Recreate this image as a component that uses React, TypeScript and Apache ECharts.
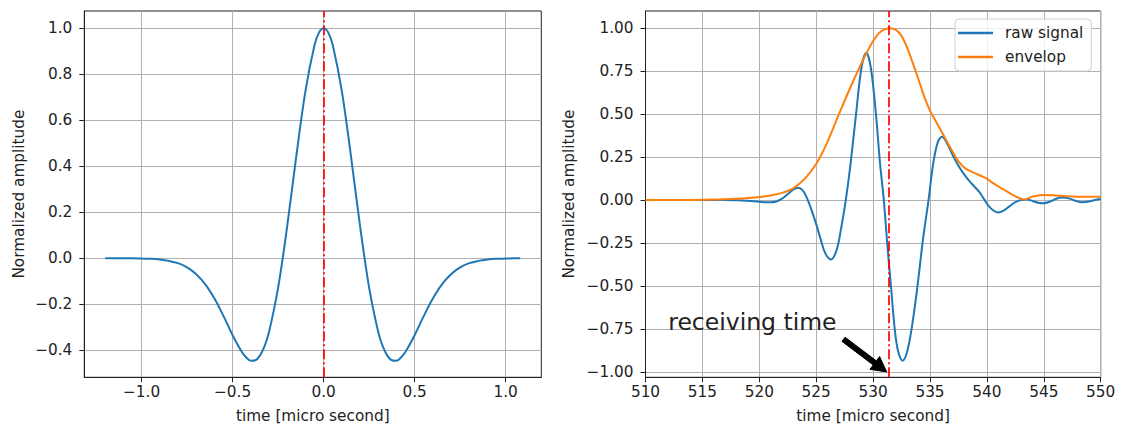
import React, { useEffect, useRef } from 'react';
import * as echarts from 'echarts';

// ---------- data ----------
const leftTime = [
  -1.2, -1.15, -1.1, -1.05, -1.0, -0.95, -0.9, -0.85, -0.8, -0.75, -0.7, -0.65, -0.6, -0.55, -0.5, -0.45,
  -0.425, -0.4, -0.375, -0.35, -0.325, -0.3, -0.25, -0.2, -0.15, -0.1, -0.05, -0.025, 0, 0.025, 0.05, 0.1, 0.15,
  0.2, 0.25, 0.3, 0.325, 0.35, 0.375, 0.4, 0.425,
  0.45, 0.5, 0.55, 0.6, 0.65, 0.7, 0.75, 0.8, 0.85, 0.9, 0.95, 1.0, 1.05, 1.08,
];
const leftAmp = [
  0, 0, 0, 0, -0.001, -0.002, -0.005, -0.011, -0.021, -0.039, -0.069, -0.113, -0.175, -0.251, -0.334, -0.406,
  -0.431, -0.445, -0.443, -0.423, -0.383, -0.32, -0.127, 0.141, 0.445, 0.727, 0.927, 0.982, 1.0, 0.982, 0.927, 0.727, 0.445,
  0.141, -0.127, -0.32, -0.383, -0.423, -0.443, -0.445, -0.431,
  -0.406, -0.334, -0.251, -0.175, -0.113, -0.069, -0.039, -0.021, -0.011, -0.005, -0.002, -0.001, 0, 0,
];

const rawTime = [
  510, 512, 514, 516, 517, 518, 518.5, 519, 519.5, 520, 520.5, 521, 521.5, 522, 522.5, 523, 523.4, 523.8,
  524.2, 524.6, 525, 525.4, 525.8, 526.3, 526.8, 527.2, 527.6, 528, 528.5, 529, 529.4, 529.8, 530.25, 530.6,
  530.94, 531.3, 531.57, 531.9, 532.2, 532.6, 533.0, 533.45, 533.9, 534.4, 534.87, 535.3, 535.7, 536.06,
  536.5, 537, 537.5, 538, 538.6, 539.3, 539.8, 540.3, 541, 541.5, 542, 542.5, 543, 543.5, 544, 544.5, 545,
  545.5, 546, 546.6, 547.2, 547.8, 548.4, 549, 549.5, 550,
];
const rawAmp = [
  0, 0, 0, 0, 0, -0.001, -0.002, -0.004, -0.007, -0.01, -0.013, -0.013, -0.008, 0.008, 0.035, 0.062, 0.072, 0.058,
  0.01, -0.06, -0.14, -0.23, -0.31, -0.345, -0.29, -0.16, 0.0, 0.2, 0.5, 0.78, 0.857, 0.77, 0.5, 0.22,
  0.0, -0.3, -0.5, -0.75, -0.88, -0.934, -0.88, -0.72, -0.5, -0.22, 0.0, 0.22, 0.34, 0.368,
  0.33, 0.26, 0.2, 0.15, 0.1, 0.05, 0.0, -0.045, -0.072, -0.06, -0.035, -0.012, 0.0, 0.003, -0.005, -0.015, -0.018,
  -0.01, 0.005, 0.015, 0.01, -0.005, -0.013, -0.008, 0.0, 0.008,
];

const envTime = [
  510, 514, 516, 518, 519, 520, 521, 522, 523, 524, 525, 526, 527, 528, 529, 529.5, 530, 530.5, 531, 531.5, 532, 532.5,
  533, 533.5, 534, 534.5, 535, 535.5, 536, 536.5, 537, 537.5, 538, 538.5, 539, 539.5, 540, 540.5, 541, 541.5,
  542, 542.5, 543, 543.3, 543.7, 544, 545, 546, 547, 548, 549, 550,
];
const envAmp = [
  0, 0.001, 0.003, 0.008, 0.012, 0.018, 0.027, 0.042, 0.07, 0.125, 0.21, 0.34, 0.5, 0.655, 0.8, 0.865, 0.925, 0.97, 0.993, 1.0, 0.99, 0.955,
  0.885, 0.795, 0.7, 0.6, 0.52, 0.46, 0.4, 0.34, 0.28, 0.225, 0.19, 0.17, 0.155, 0.14, 0.125, 0.1, 0.08, 0.06,
  0.04, 0.022, 0.008, 0.003, 0.012, 0.02, 0.03, 0.027, 0.022, 0.02, 0.02, 0.02,
];

const leftXTicks = [-1.0, -0.5, 0.0, 0.5, 1.0];
const leftYTicks = [-0.4, -0.2, 0.0, 0.2, 0.4, 0.6, 0.8, 1.0];
const rightXTicks = [510, 515, 520, 525, 530, 535, 540, 545, 550];
const rightYTicks = [-1.0, -0.75, -0.5, -0.25, 0.0, 0.25, 0.5, 0.75, 1.0];

const leftPeakTime = 0;
const receivingTime = 531.35;
const annotationText = 'receiving time';
const annotationPos = [512, -0.75];
const arrowTail = [527.4, -0.81];
const arrowTip = [531.2, -1.0];

const xLabel = 'time [micro second]';
const yLabel = 'Normalized amplitude';
const seriesNames = ['raw signal', 'envelop'];

// ---------- styling ----------
const FONT = 'DejaVu Sans';
const FS = 15.3;
const TXT = '#222';
const BLUE = '#1f77b4';
const ORANGE = '#ff7f0e';

const fmt = (d: number) => (v: number) => (v < -1e-9 ? '\u2212' : '') + Math.abs(v).toFixed(d);

function axis(opts: any) {
  const { ticks, decimals, name, nameGap, labelMargin, ...rest } = opts;
  return {
    type: 'value',
    scale: true,
    name,
    nameLocation: 'middle',
    nameGap,
    nameTextStyle: { fontFamily: FONT, fontSize: FS, color: TXT },
    axisLine: { show: true, onZero: false, lineStyle: { color: TXT, width: 1 } },
    axisTick: { show: true, inside: false, length: 5, customValues: ticks, lineStyle: { color: TXT, width: 1 } },
    splitLine: { show: true, lineStyle: { color: '#b0b0b0', width: 1 } },
    axisLabel: {
      customValues: ticks,
      formatter: fmt(decimals),
      fontFamily: FONT,
      fontSize: FS,
      color: TXT,
      margin: labelMargin,
    },
    ...rest,
  };
}

const redLine = (x: number) => ({
  silent: true,
  symbol: ['none', 'none'],
  label: { show: false },
  emphasis: { disabled: true },
  lineStyle: { color: 'rgba(255,0,0,0.85)', width: 2, type: [10, 3, 2, 3] },
  data: [{ xAxis: x }],
});

export default function App() {
  const ref = useRef<HTMLDivElement>(null);

  useEffect(() => {
    if (!ref.current) return;
    const chart = echarts.init(ref.current, undefined, { renderer: 'svg' });
    chart.setOption({
      animation: false,
      textStyle: { fontFamily: FONT },
      grid: [
        { left: 84.3, top: 11, width: 457, height: 366.3, show: true, borderColor: TXT, borderWidth: 1 },
        { left: 645.5, top: 11, width: 455.2, height: 366.3, show: true, borderColor: TXT, borderWidth: 1 },
      ],
      xAxis: [
        axis({ gridIndex: 0, min: -1.315, max: 1.196, ticks: leftXTicks, decimals: 1, name: xLabel, nameGap: 31, labelMargin: 7 }),
        axis({ gridIndex: 1, min: 510, max: 550, ticks: rightXTicks, decimals: 0, name: xLabel, nameGap: 31, labelMargin: 7 }),
      ],
      yAxis: [
        axis({ gridIndex: 0, min: -0.517, max: 1.075, ticks: leftYTicks, decimals: 1, name: yLabel, nameGap: 58, labelMargin: 12 }),
        axis({ gridIndex: 1, min: -1.031, max: 1.1, ticks: rightYTicks, decimals: 2, name: yLabel, nameGap: 69, labelMargin: 12 }),
      ],
      legend: {
        data: seriesNames,
        orient: 'vertical',
        left: 955,
        top: 19,
        icon: 'rect',
        itemWidth: 35,
        itemHeight: 2.5,
        itemGap: 8,
        padding: [6, 8, 6, 3],
        borderColor: '#d0d0d0',
        borderWidth: 1,
        borderRadius: 4,
        backgroundColor: 'rgba(255,255,255,0.8)',
        textStyle: { fontFamily: FONT, fontSize: FS, color: TXT, padding: [0, 0, 0, 7], lineHeight: 16 },
      },
      series: [
        {
          type: 'line',
          xAxisIndex: 0,
          yAxisIndex: 0,
          data: leftTime.map((t, i) => [t, leftAmp[i]]),
          symbol: 'none',
          smooth: 0.35,
          lineStyle: { color: BLUE, width: 2 },
          itemStyle: { color: BLUE },
          markLine: redLine(leftPeakTime),
        },
        {
          name: seriesNames[0],
          type: 'line',
          xAxisIndex: 1,
          yAxisIndex: 1,
          data: rawTime.map((t, i) => [t, rawAmp[i]]),
          symbol: 'none',
          smooth: 0.35,
          lineStyle: { color: BLUE, width: 2 },
          itemStyle: { color: BLUE },
        },
        {
          name: seriesNames[1],
          type: 'line',
          xAxisIndex: 1,
          yAxisIndex: 1,
          data: envTime.map((t, i) => [t, envAmp[i]]),
          symbol: 'none',
          smooth: 0.35,
          lineStyle: { color: ORANGE, width: 2 },
          itemStyle: { color: ORANGE },
          markLine: redLine(receivingTime),
        },
      ],
    });

    // annotation: text + arrow, placed via the axes' own conversion
    const tail = chart.convertToPixel({ gridIndex: 1 }, arrowTail) as number[];
    const tip = chart.convertToPixel({ gridIndex: 1 }, arrowTip) as number[];
    const txt = chart.convertToPixel({ gridIndex: 1 }, annotationPos) as number[];
    const dx = tip[0] - tail[0];
    const dy = tip[1] - tail[1];
    const len = Math.hypot(dx, dy);
    const ux = dx / len, uy = dy / len;
    const nx = -uy, ny = ux;
    const headLen = 15, headHalf = 8, shaftHalf = 2.6;
    const bx = tip[0] - ux * headLen, by = tip[1] - uy * headLen;
    const pts = [
      [tail[0] + nx * shaftHalf, tail[1] + ny * shaftHalf],
      [bx + nx * shaftHalf, by + ny * shaftHalf],
      [bx + nx * headHalf, by + ny * headHalf],
      [tip[0], tip[1]],
      [bx - nx * headHalf, by - ny * headHalf],
      [bx - nx * shaftHalf, by - ny * shaftHalf],
      [tail[0] - nx * shaftHalf, tail[1] - ny * shaftHalf],
    ];
    chart.setOption({
      graphic: [
        {
          type: 'polygon',
          shape: { points: pts },
          style: { fill: '#000', stroke: '#000', lineWidth: 1 },
          z: 100,
          silent: true,
        },
        {
          type: 'text',
          x: txt[0],
          y: txt[1] + 5,
          style: {
            text: annotationText,
            fontFamily: FONT,
            fontSize: 23.5,
            fill: TXT,
            align: 'left',
            verticalAlign: 'bottom',
          },
          z: 100,
          silent: true,
        },
      ],
    });

    return () => chart.dispose();
  }, []);

  return (
    <div
      ref={ref}
      style={{ position: 'absolute', left: 0, top: 0, width: 1121, height: 433, background: '#fff' }}
    />
  );
}
